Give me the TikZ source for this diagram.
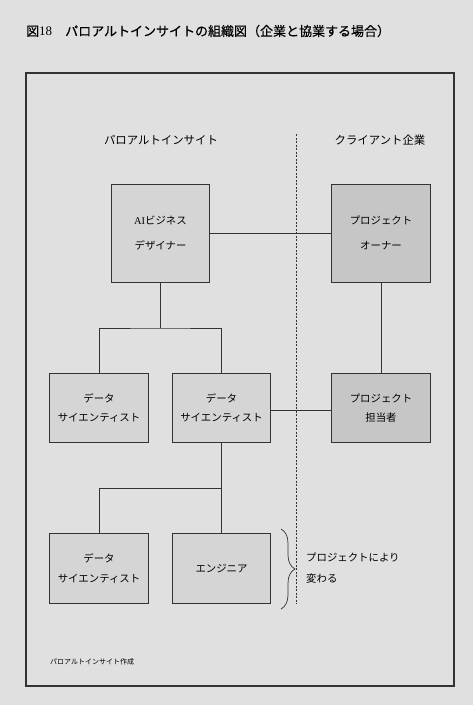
\documentclass[tikz,border=0pt]{standalone}
\usepackage{fontspec}
\setmainfont{Noto Sans CJK JP}
\newfontfamily\latinserif{Liberation Serif}
\newfontfamily\titlefont[FakeBold=0.5]{Noto Sans CJK JP}
\usetikzlibrary{decorations.pathreplacing}
\definecolor{bggray}{HTML}{E0E0E0}
\definecolor{boxlight}{HTML}{D5D5D5}
\definecolor{boxdark}{HTML}{C6C6C6}
\definecolor{linegray}{HTML}{333333}
\newcommand{\boxw}{98.5pt}
\newcommand{\boxh}{69.5pt}

\begin{document}
\begin{tikzpicture}[x=1pt,y=-1pt,
    rect/.style={draw=linegray, line width=0.9pt, rectangle, fill=boxlight, minimum width=\boxw, minimum height=\boxh, inner sep=0pt, align=center, font=\fontsize{10.4}{19.5}\selectfont},
    bigrect/.style={rect, minimum height=98pt, font=\fontsize{10.4}{25}\selectfont},
    conn/.style={draw=linegray, line width=0.8pt},
    head/.style={font=\fontsize{11.4}{13}\selectfont}]
    % background and frame
    \useasboundingbox[fill=bggray] (0,0) rectangle (473,705);
    \draw[linegray, line width=1.2pt] (26,73) rectangle (454,686);
    \node[anchor=west, inner sep=0pt, font=\fontsize{13}{15}\titlefont] (title) at (26,31) {図{\latinserif 18}　パロアルトインサイトの組織図（企業と協業する場合）};

    % headings and divider
    \node[head] (head-pa) at (161,140) {パロアルトインサイト};
    \node[head] (head-cl) at (380,140) {クライアント企業};
    \coordinate (div-top) at (296,134);
    \coordinate (div-bot) at (296,604);
    \draw[linegray, line width=0.6pt, dash pattern=on 2pt off 1.5pt] (div-top) -- (div-bot);

    % First row
    \node[bigrect] (ai) at (160.5,233) {{\latinserif AI}ビジネス\\デザイナー};
    \node[bigrect, fill=boxdark] (owner) at (381,233) {プロジェクト\\オーナー};

    % Second row
    \node[rect] (ds-2-1) at (99,408) {データ\\サイエンティスト};
    \node[rect] (ds-2-2) at (221.5,408) {データ\\サイエンティスト};
    \node[rect, fill=boxdark] (tanto) at (381,408) {プロジェクト\\担当者};

    % Third row
    \node[rect] (ds-3-1) at (99,568.5) {データ\\サイエンティスト};
    \node[rect] (eng) at (221.5,568.5) {エンジニア};

    % connectors
    \coordinate (fork-1) at (160.5,328);
    \coordinate (fork-2) at (221.5,488);
    \draw[conn] (ai) -- (owner);
    \draw[conn] (owner) -- (tanto);
    \draw[conn] (ai.south) -- (fork-1);
    \draw[conn] (ds-2-1.north) |- (fork-1) -| (ds-2-2.north);
    \draw[conn] (ds-2-2.east |- 0,410) -- (tanto.west |- 0,410);
    \draw[conn] (ds-2-2.south) -- (fork-2);
    \draw[conn] (ds-3-1.north) |- (fork-2) -- (eng.north);

    % brace
    \coordinate (brace-top) at (281,529);
    \coordinate (brace-bot) at (281,609);
    \draw[linegray, line width=0.7pt, decorate, decoration={brace, amplitude=14pt}] (brace-top) -- (brace-bot);
    \node[anchor=west, align=left, inner sep=0pt, font=\fontsize{10.4}{21}\selectfont] (vary) at (306,568.5) {プロジェクトにより\\変わる};

    % source
    \node[anchor=west, inner sep=0pt, font=\fontsize{7}{8}\selectfont] (source) at (50,662) {パロアルトインサイト作成};
\end{tikzpicture}
\end{document}
